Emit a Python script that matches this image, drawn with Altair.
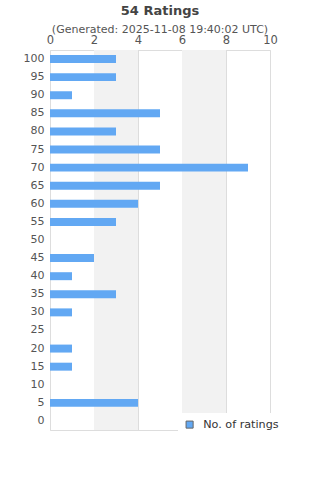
import altair as alt
import pandas as pd

categories = [100, 95, 90, 85, 80, 75, 70, 65, 60, 55, 50, 45, 40, 35, 30, 25, 20, 15, 10, 5, 0]
counts = [3, 3, 1, 5, 3, 5, 9, 5, 4, 3, 0, 2, 1, 3, 1, 0, 1, 1, 0, 4, 0]
band_start = [2, 6]
band_end = [4, 8]
title_text = "54 Ratings"
subtitle_text = "(Generated: 2025-11-08 19:40:02 UTC)"
series_name = "No. of ratings"

df = pd.DataFrame({"score": [str(c) for c in categories], "count": counts, "series": series_name})
bands = pd.DataFrame({"x": band_start, "x2": band_end})
order = [str(c) for c in categories]

xscale = alt.Scale(domain=[0, 10], nice=False)
xaxis = alt.Axis(
    orient="top", values=[0, 2, 4, 6, 8, 10], title=None, ticks=False,
    domain=False, grid=True, gridColor="#dddddd", labelColor="#555555",
    labelFontSize=11.5, labelPadding=7, labelBaseline="alphabetic",
    labelFont="DejaVu Sans", labelFlush=False, labelOverlap=False,
)

bg = alt.Chart(bands).mark_rect(color="#f2f2f2").encode(
    x=alt.X("x:Q", scale=xscale, axis=xaxis),
    x2="x2:Q",
)

bars = alt.Chart(df).mark_bar(color="#62a8f3").encode(
    x=alt.X("count:Q", scale=xscale, axis=xaxis),
    y=alt.Y(
        "score:N", sort=order,
        scale=alt.Scale(domain=order, paddingInner=0.56, paddingOuter=0.28),
        axis=alt.Axis(title=None, ticks=False, domain=False, labelColor="#555555",
                      labelFontSize=11, labelPadding=6, labelFont="DejaVu Sans"),
    ),
    fill=alt.Fill(
        "series:N",
        scale=alt.Scale(domain=[series_name], range=["#62a8f3"]),
        legend=alt.Legend(
            title=None, orient="none", legendX=128, legendY=363,
            symbolType="square", symbolStrokeColor="#666666", symbolStrokeWidth=1,
            symbolSize=50, labelFontSize=11.2, labelColor="#333333",
            labelFont="DejaVu Sans", fillColor="white", padding=6, labelOffset=8,
        ),
    ),
)

t1 = alt.Chart(pd.DataFrame({"t": [title_text]})).mark_text(
    fontSize=13, fontWeight="bold", color="#444444", font="DejaVu Sans"
).encode(text="t:N", x=alt.value(110), y=alt.value(-39))

t2 = alt.Chart(pd.DataFrame({"t": [subtitle_text]})).mark_text(
    fontSize=11, color="#555555", font="DejaVu Sans"
).encode(text="t:N", x=alt.value(110), y=alt.value(-20))

chart = alt.layer(bg, bars, t1, t2).properties(
    width=220, height=380,
    autosize=alt.AutoSizeParams(type="none"),
    padding={"left": 50, "top": 50, "right": 50, "bottom": 50},
).configure_view(stroke="#dddddd")

chart.save("out.html", embed_options={"renderer": "svg", "actions": False})
